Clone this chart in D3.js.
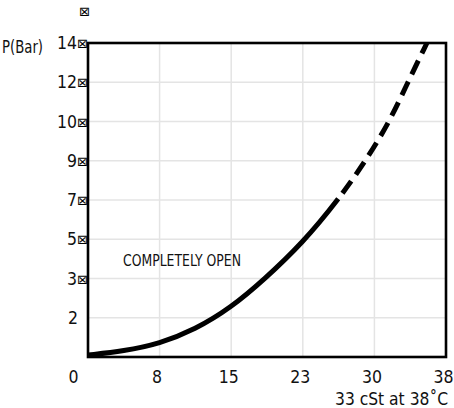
<!DOCTYPE html>
<html>
<head>
<meta charset="utf-8">
<script src="https://cdn.jsdelivr.net/npm/d3@7"></script>
<style>
body { margin: 0; background: #fff; }
text { font-family: "DejaVu Sans Condensed", "Liberation Sans Narrow", sans-serif; fill: #111; }
.box { font-family: "DejaVu Sans", sans-serif; fill: #000; }
</style>
</head>
<body>
<svg></svg>
<script>
var width = 454, height = 408;

// data
var xTickValues = [0, 7.5, 15, 22.5, 30, 37.5];
var xTickLabels = ["0", "8", "15", "23", "30", "38"];
var yTickValues = [0, 2, 3, 5, 7, 9, 10, 12, 14];
var yTickLabels = ["", "2", "3", "5", "7", "9", "10", "12", "14"];
var yTickMarks = ["", "", "\u22A0", "\u22A0", "\u22A0", "\u22A0", "\u22A0", "\u22A0", "\u22A0"];

var viscosity = [0, 3.75, 7.5, 11.2, 15, 18.45, 22.5, 26.2, 29.1, 31.6, 33.5, 35.5];
var pressure = [0.1, 0.3, 0.68, 1.39, 2.26, 2.97, 4.82, 7, 9, 10, 12, 14];
var solidUntil = 26.2; // dashed beyond this viscosity

var plotLeft = 88, plotRight = 446, plotTop = 43, plotBottom = 357;

var svg = d3.select("svg")
	.attr("width", width)
	.attr("height", height);

var x = d3.scaleLinear()
	.domain([0, 37.5])
	.range([plotLeft, plotRight]);

// irregular labels on evenly spaced grid lines
var y = d3.scaleLinear()
	.domain(yTickValues)
	.range(yTickValues.map(function(d, i) {
		return plotBottom - i * (plotBottom - plotTop) / (yTickValues.length - 1);
	}));

// grid
svg.append("g")
	.selectAll("line")
	.data(xTickValues.slice(1, -1))
	.enter()
	.append("line")
	.attr("x1", function(d) { return x(d); })
	.attr("x2", function(d) { return x(d); })
	.attr("y1", plotTop)
	.attr("y2", plotBottom)
	.attr("stroke", "#e4e4e4")
	.attr("stroke-width", 1.5);

svg.append("g")
	.selectAll("line")
	.data(yTickValues.slice(1, -1))
	.enter()
	.append("line")
	.attr("x1", plotLeft)
	.attr("x2", plotRight)
	.attr("y1", function(d) { return y(d); })
	.attr("y2", function(d) { return y(d); })
	.attr("stroke", "#e4e4e4")
	.attr("stroke-width", 1.5);

// axes (labels only)
var xAxis = svg.append("g")
	.attr("transform", "translate(0," + plotBottom + ")")
	.call(d3.axisBottom(x)
		.tickValues(xTickValues)
		.tickSize(0)
		.tickPadding(14)
		.tickFormat(function(d, i) { return xTickLabels[i]; }));
xAxis.attr("font-family", null).attr("font-size", null);
xAxis.select(".domain").remove();
xAxis.selectAll("text")
	.attr("font-size", 17.5)
	.attr("fill", "#111")
	.attr("dx", function(d, i) { return i == 0 ? -15 : -3; });

var yAxis = svg.append("g")
	.attr("transform", "translate(" + plotLeft + ",0)")
	.call(d3.axisLeft(y)
		.tickValues(yTickValues)
		.tickSize(0)
		.tickPadding(0)
		.tickFormat(""));
yAxis.attr("font-family", null).attr("font-size", null);
yAxis.select(".domain").remove();
yAxis.selectAll("text")
	.attr("font-size", 17.5)
	.attr("fill", "#111")
	.each(function(d, i) {
		var t = d3.select(this);
		t.append("tspan").text(yTickLabels[i]);
		if (yTickMarks[i]) {
			t.append("tspan")
				.attr("class", "box")
				.attr("font-size", 13)
				.attr("dy", -1)
				.text(yTickMarks[i]);
		} else {
			t.attr("dx", -10);
		}
	});

// frame
svg.append("rect")
	.attr("x", plotLeft)
	.attr("y", plotTop)
	.attr("width", plotRight - plotLeft)
	.attr("height", plotBottom - plotTop)
	.attr("fill", "none")
	.attr("stroke", "#000")
	.attr("stroke-width", 2.6);

// curve: one path, solid then dashed
var line = d3.line()
	.x(function(d) { return x(d[0]); })
	.y(function(d) { return y(d[1]); })
	.curve(d3.curveBasis);

var curve = svg.append("path")
	.attr("d", line(d3.zip(viscosity, pressure)))
	.attr("fill", "none")
	.attr("stroke", "#000")
	.attr("stroke-width", 5);

var node = curve.node(),
    total = node.getTotalLength(),
    lo = 0, hi = total;
for (var k = 0; k < 30; k++) {
	var mid = (lo + hi) / 2;
	if (node.getPointAtLength(mid).x < x(solidUntil)) lo = mid; else hi = mid;
}
var dashes = [lo, 7];
for (var s = lo; s < total; s += 23) dashes.push(15, 8);
curve.attr("stroke-dasharray", dashes.join(","));

// labels
svg.append("text")
	.attr("x", 2)
	.attr("y", 53)
	.attr("font-size", 18)
	.attr("textLength", 41)
	.attr("lengthAdjust", "spacingAndGlyphs")
	.text("P(Bar)");

svg.append("text")
	.attr("class", "box")
	.attr("x", 79)
	.attr("y", 16)
	.attr("font-size", 13)
	.text("\u22A0");

svg.append("text")
	.attr("x", 123)
	.attr("y", 266)
	.attr("font-size", 15.5)
	.attr("textLength", 118)
	.attr("lengthAdjust", "spacingAndGlyphs")
	.text("COMPLETELY OPEN");

svg.append("text")
	.attr("x", 335)
	.attr("y", 405)
	.attr("font-size", 17)
	.attr("textLength", 113)
	.attr("lengthAdjust", "spacingAndGlyphs")
	.text("33 cSt at 38\u02DAC");
</script>
</body>
</html>
